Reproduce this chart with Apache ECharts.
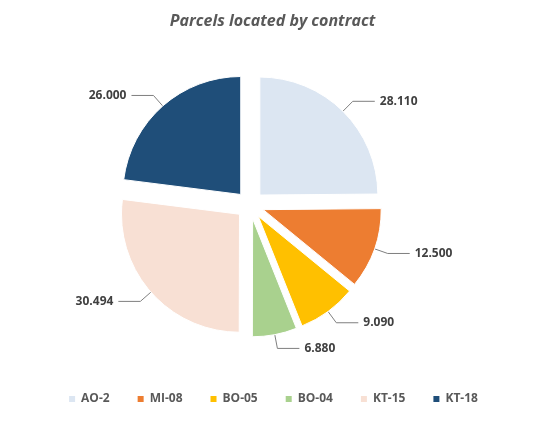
<!DOCTYPE html>
<html><head><meta charset="utf-8">
<script src="https://cdn.jsdelivr.net/npm/echarts@6/dist/echarts.min.js"></script>
<style>html,body{margin:0;background:#fff}#c{width:545px;height:422px}</style>
</head><body><div id="c"></div>
<script>
const categories = ['AO-2', 'MI-08', 'BO-05', 'BO-04', 'KT-15', 'KT-18'];
const values = [28.110, 12.500, 9.090, 6.880, 30.494, 26.000];
const colors = ['#dce6f2', '#ed7d31', '#ffc000', '#a9d18e', '#f8e0d4', '#1f4e79'];

const chart = echarts.init(document.getElementById('c'));
chart.setOption({
  title: {
    text: 'Parcels located by contract', left: 'center', top: 8,
    textStyle: { color: '#595959', fontSize: 16, fontStyle: 'italic', fontWeight: 'bold', fontFamily: 'Open Sans' }
  },
  legend: {
    bottom: 12, left: 'center', itemWidth: 8, itemHeight: 8, icon: 'rect', itemGap: 26,
    textStyle: { color: '#595959', fontSize: 12, fontWeight: 'bold', fontFamily: 'Open Sans' },
    data: categories
  },
  series: [{
    type: 'pie',
    center: [250, 205],
    radius: [0, 118],
    startAngle: 90,
    selectedMode: 'multiple',
    selectedOffset: 14,
    label: {
      formatter: p => p.value.toFixed(3), color: '#404040', fontWeight: 'bold', fontSize: 12,
      fontFamily: 'Open Sans'
    },
    labelLine: { length: 14, length2: 22, lineStyle: { color: '#7f7f7f' } },
    itemStyle: { borderColor: '#fff', borderWidth: 1 },
    data: categories.map((n, i) => ({ name: n, value: values[i], selected: true, itemStyle: { color: colors[i] } }))
  }]
});
</script></body></html>
